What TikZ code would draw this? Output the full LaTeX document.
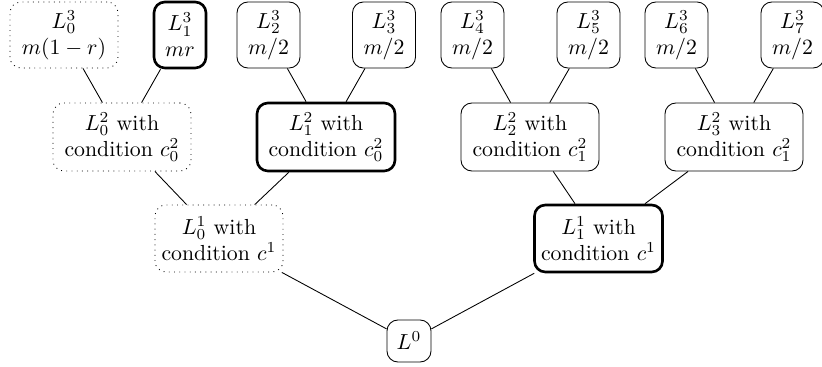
\documentclass[tikz,border=0pt]{standalone}
\usetikzlibrary{positioning}
\def\pu{0.4587pt}
\tikzset{
  box/.style={draw, rounded corners=5pt, align=center, inner sep=1pt, thin},
  lvthree/.style={box, minimum height=66*\pu},
  lvtwo/.style={box, minimum width=138*\pu, minimum height=68*\pu},
  lvone/.style={box, minimum width=128*\pu, minimum height=67*\pu},
  faded/.style={dotted},
  chosen/.style={very thick},
  edge/.style={draw, thin}
}
\begin{document}
\begin{tikzpicture}[x=\pu, y=-\pu]
\useasboundingbox (0,0) rectangle (822,367);
% level 3
\node[lvthree, faded, minimum width=108*\pu] (a0) at (64,35) {$L_0^3$\\$m(1-r)$};
\node[lvthree, chosen, minimum width=52*\pu] (a1) at (180,35) {$L_1^3$\\$mr$};
\node[lvthree, minimum width=63*\pu] (a2) at (268.5,35) {$L_2^3$\\$m/2$};
\node[lvthree, minimum width=63*\pu] (a3) at (384,35) {$L_3^3$\\$m/2$};
\node[lvthree, minimum width=63*\pu] (a4) at (472.5,35) {$L_4^3$\\$m/2$};
\node[lvthree, minimum width=63*\pu] (a5) at (588.5,35) {$L_5^3$\\$m/2$};
\node[lvthree, minimum width=63*\pu] (a6) at (676.5,35) {$L_6^3$\\$m/2$};
\node[lvthree, minimum width=63*\pu] (a7) at (792.5,35) {$L_7^3$\\$m/2$};
% level 2
\node[lvtwo, faded] (b0) at (122,137) {$L_0^2$ with\\condition $c_0^2$};
\node[lvtwo, chosen] (b1) at (326,137) {$L_1^2$ with\\condition $c_0^2$};
\node[lvtwo] (b2) at (530,137) {$L_2^2$ with\\condition $c_1^2$};
\node[lvtwo] (b3) at (734,137) {$L_3^2$ with\\condition $c_1^2$};
% level 1
\node[lvone, faded] (c0) at (219,238.5) {$L_0^1$ with\\condition $c^1$};
\node[lvone, chosen] (c1) at (598.5,238.5) {$L_1^1$ with\\condition $c^1$};
% root
\node[box, minimum width=44*\pu, minimum height=42*\pu] (r) at (409,341) {$L^0$};
% edges
\path[edge] (r) -- (c0);
\path[edge] (r) -- (c1);
\path[edge] (c0) -- (b0);
\path[edge] (c0) -- (b1);
\path[edge] (c1) -- (b2);
\path[edge] (c1) -- (b3);
\path[edge] (b0) -- (a0);
\path[edge] (b0) -- (a1);
\path[edge] (b1) -- (a2);
\path[edge] (b1) -- (a3);
\path[edge] (b2) -- (a4);
\path[edge] (b2) -- (a5);
\path[edge] (b3) -- (a6);
\path[edge] (b3) -- (a7);
\end{tikzpicture}
\end{document}
